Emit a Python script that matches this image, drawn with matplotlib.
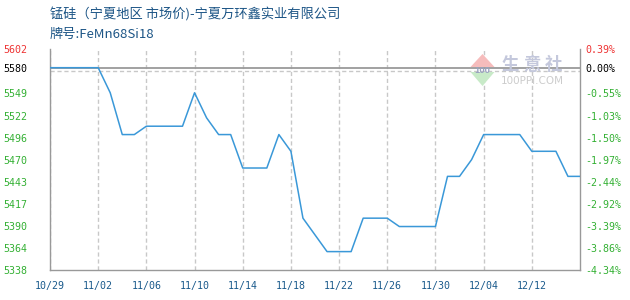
import numpy as np
import matplotlib
matplotlib.use("Agg")
import matplotlib.pyplot as plt
from matplotlib.patches import Polygon

plt.rcParams['font.family'] = ['Noto Sans CJK SC', 'DejaVu Sans']

# ---- data ----
title_line1 = "锰硅（宁夏地区 市场价)-宁夏万环鑫实业有限公司"
title_line2 = "牌号:FeMn68Si18"
base_price = 5580
x_tick_labels = ["10/29", "11/02", "11/06", "11/10", "11/14", "11/18",
                 "11/22", "11/26", "11/30", "12/04", "12/12"]
prices = [5580, 5580, 5580, 5580, 5580, 5550, 5500, 5500, 5510, 5510,
          5510, 5510, 5550, 5520, 5500, 5500, 5460, 5460, 5460, 5500,
          5480, 5400, 5380, 5360, 5360, 5360, 5400, 5400, 5400, 5390,
          5390, 5390, 5390, 5450, 5450, 5470, 5500, 5500, 5500, 5500,
          5480, 5480, 5480, 5450, 5450]
y_min, y_max = 5338, 5602

# ---- figure ----
W, H = 630, 300
fig = plt.figure(figsize=(W / 100, H / 100), dpi=100)
fig.patch.set_facecolor('white')

L, R, T, B = 50, 580, 49.3, 270
ax = fig.add_axes([L / W, 1 - B / H, (R - L) / W, (B - T) / H])

n = len(prices)
x = np.arange(n)
ax.set_xlim(0, n - 1)
ax.set_ylim(y_min, y_max)

# grid
grid_vals = np.linspace(y_min, y_max, 11)
ax.set_yticks(grid_vals, minor=True)
ax.yaxis.grid(True, which='minor', color='#c8c8c8', linestyle=(0, (3, 2)), linewidth=1.0)
ax.set_xticks(np.arange(0, 4 * len(x_tick_labels), 4))
ax.set_xticklabels(x_tick_labels)
ax.xaxis.grid(True, which='major', color='#c8c8c8', linestyle=(0, (3, 2)), linewidth=1.0)
ax.set_axisbelow(True)

# base line
ax.axhline(base_price, color='#9a9a9a', linewidth=1.3, zorder=2)

# data line
ax.plot(x, prices, color='#3a98d8', linewidth=1.1, zorder=3)

# left ticks (labels)
left_ticks = [v for v in grid_vals if abs(v - 5575.6) > 1] + [base_price]
left_ticks = sorted(left_ticks)
ax.set_yticks(left_ticks)
ax.set_yticklabels([f"{int(np.floor(v + 1e-6)):d}" for v in left_ticks])
ax.tick_params(axis='y', which='both', length=0, pad=16)
ax.tick_params(axis='x', which='both', length=0, pad=8, labelcolor='#1a5a8c')

mono = ['DejaVu Sans Mono']
for lab, v in zip(ax.get_yticklabels(), left_ticks):
    lab.set_fontfamily(mono)
    lab.set_fontsize(7.2)
    if v > base_price:
        lab.set_color('#ee3333')
    elif v == base_price:
        lab.set_color('#000000')
    else:
        lab.set_color('#33b033')
for lab in ax.get_xticklabels():
    lab.set_fontfamily(mono)
    lab.set_fontsize(7.2)

# spines
for s in ['left', 'bottom', 'right']:
    ax.spines[s].set_color('#999999')
    ax.spines[s].set_linewidth(1.0)
ax.spines['top'].set_visible(False)

# right axis (percent)
ax2 = ax.twinx()
to_pct = lambda v: (v - base_price) / base_price * 100
ax2.set_ylim(to_pct(y_min), to_pct(y_max))
pct_ticks = [to_pct(v) for v in left_ticks]
ax2.set_yticks(pct_ticks)
ax2.set_yticklabels([f"{p:.2f}%".replace("-0.00", "0.00") for p in pct_ticks])
ax2.tick_params(axis='y', length=0, pad=4)
for lab, v in zip(ax2.get_yticklabels(), left_ticks):
    lab.set_fontfamily(mono)
    lab.set_fontsize(7.2)
    if v > base_price:
        lab.set_color('#ee3333')
    elif v == base_price:
        lab.set_color('#000000')
    else:
        lab.set_color('#33b033')
for s in ['left', 'bottom', 'right', 'top']:
    ax2.spines[s].set_visible(False)

# titles
fig.text(50 / W, 1 - 15 / H, title_line1, fontsize=9.5, color='#1c5586',
         ha='left', va='center')
fig.text(50 / W, 1 - 34 / H, title_line2, fontsize=9.5, color='#1c5586',
         ha='left', va='center')

# watermark
def px(xp, yp):
    return (xp / W, 1 - yp / H)

red_tri = Polygon([px(470.5, 67), px(494.5, 67), px(482.5, 54)],
                  closed=True, transform=fig.transFigure, facecolor='#f6bcbc',
                  edgecolor='none', zorder=5)
green_tri = Polygon([px(470.5, 72), px(494.5, 72), px(482.5, 86)],
                    closed=True, transform=fig.transFigure, facecolor='#c8eac8',
                    edgecolor='none', zorder=5)
fig.add_artist(red_tri)
fig.add_artist(green_tri)
fig.text(*px(482.5, 70), "100", fontsize=6.5, color='#9aa2c0', ha='center',
         va='center', fontweight='bold', zorder=6)
for ch, cx in zip("生意社", [510, 531.7, 553.3]):
    fig.text(*px(cx, 65), ch, fontsize=12.5, color='#c4c8dc', ha='center',
             va='center', fontweight='bold', zorder=6)
fig.text(*px(532, 80.5), "100PPI.COM", fontsize=7.5, color='#cccccc', ha='center',
         va='center', family=['DejaVu Sans'], zorder=6)

fig.savefig("out.png", dpi=100, facecolor='white')
